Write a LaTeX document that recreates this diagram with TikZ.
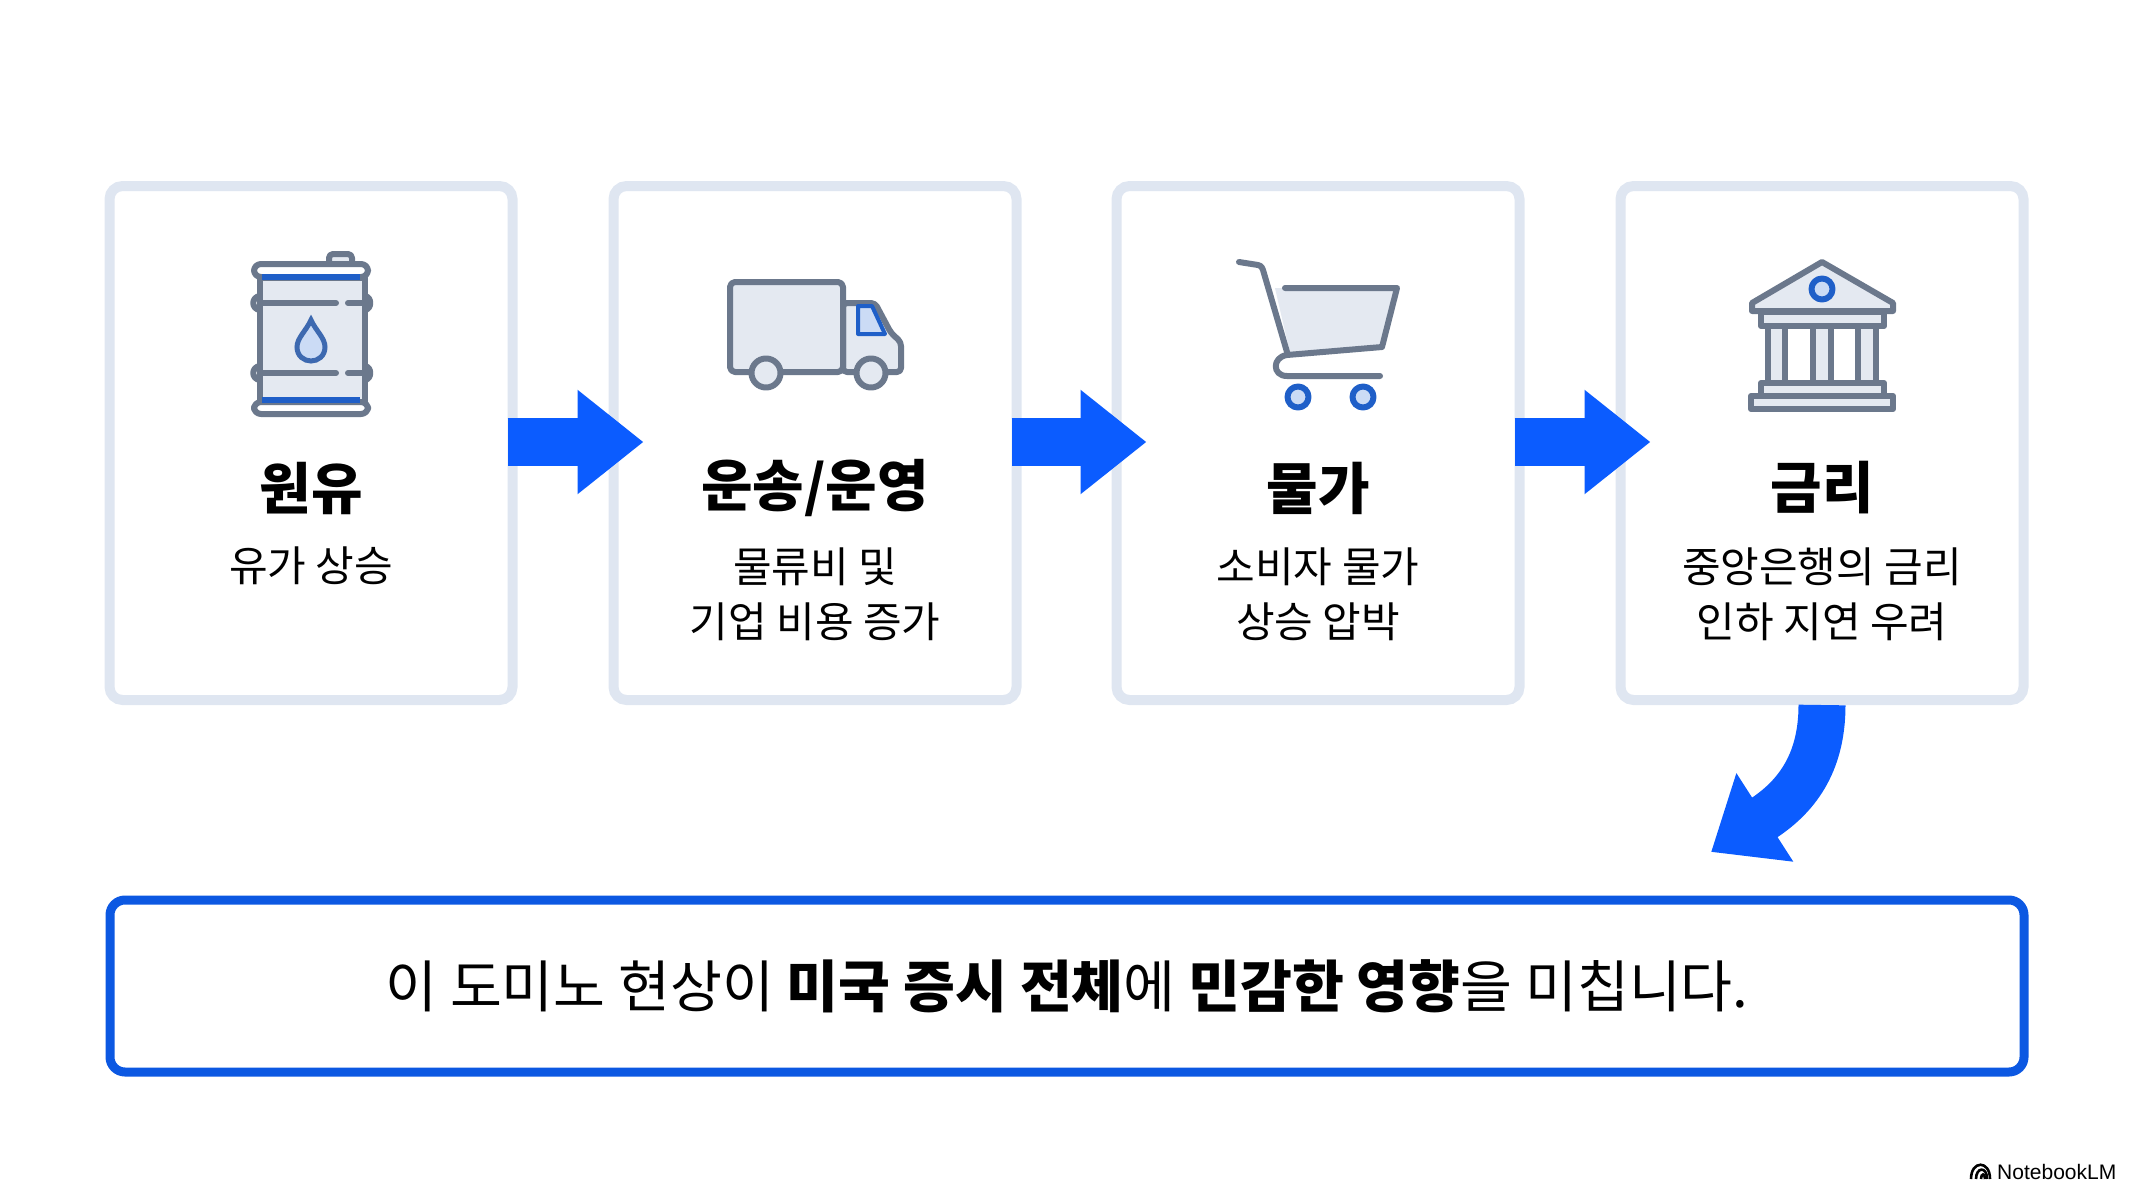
\documentclass[tikz,border=0pt]{standalone}
\usepackage{fontspec}
\setmainfont{Noto Sans CJK KR}
\newfontfamily\logofont{Liberation Sans}
\usetikzlibrary{arrows.meta}
\definecolor{linegray}{HTML}{6B788C}
\definecolor{iconfill}{HTML}{E4E9F1}
\definecolor{iconblue}{HTML}{1F5FC8}
\definecolor{paleblue}{HTML}{CBDBF5}
\definecolor{framegray}{HTML}{DFE6F1}
\definecolor{mainblue}{HTML}{0B5CFF}
\definecolor{framblue}{HTML}{0C58E2}
\tikzset{
box node/.style={draw=framegray,fill=white,line width=10pt,rounded corners=13pt,minimum width=403pt,minimum height=514pt,outer sep=0pt,inner sep=0pt},
banner node/.style={draw=framblue,fill=white,line width=9pt,rounded corners=15pt,minimum width=1914pt,minimum height=172pt,outer sep=0pt,font=\fontsize{56.4}{60}\selectfont},
title node/.style={font=\fontsize{56}{60}\selectfont\bfseries,inner sep=0pt},
sub node/.style={font=\fontsize{42}{55}\selectfont,align=center,inner sep=0pt},
freccia/.style={draw=mainblue,line width=48pt,-{Triangle[length=66pt,width=100pt]},shorten <=-5pt,shorten >=-30pt},
freccia curva/.style={draw=mainblue,line width=47pt,-{Triangle[length=64pt,width=101pt]},shorten <=5pt},
icon/.style={draw=linegray,line width=6pt,line join=round,line cap=round},
icon blue/.style={draw=iconblue,line width=6pt,line join=round,line cap=round}}

\begin{document}
\begin{tikzpicture}[x=1pt,y=-1pt]
\useasboundingbox (0,0) rectangle (2133,1200);

\node[box node] (box1) at (311,443) {};
\node[box node] (box2) at (815,443) {};
\node[box node] (box3) at (1318,443) {};
\node[box node] (box4) at (1822,443) {};
\node[banner node] (banner) at (1067,986) {\raisebox{-1pt}{이 도미노 현상이 \textbf{미국 증시 전체}에 \textbf{민감한 영향}을 미칩니다.}};

\node[title node] (title1) at (311,488) {원유};
\node[title node] (title2) at (815,488) {운송/운영};
\node[title node] (title3) at (1318,488) {물가};
\node[title node] (title4) at (1822,488) {금리};
\node[sub node] (sub1) at (311,566) {유가 상승};
\node[sub node] (sub2) at (815,594) {물류비 및\\기업 비용 증가};
\node[sub node] (sub3) at (1318,594) {소비자 물가\\상승 압박};
\node[sub node] (sub4) at (1822,594) {중앙은행의 금리\\인하 지연 우려};

\coordinate (curveend) at (1711,852);
\draw[freccia] ([yshift=1pt]box1.east) -- ([yshift=1pt]box2.west);
\draw[freccia] ([yshift=1pt]box2.east) -- ([yshift=1pt]box3.west);
\draw[freccia] ([yshift=1pt]box3.east) -- ([yshift=1pt]box4.west);
\draw[freccia curva] (box4.south) .. controls (1822,765) and (1795,798) .. (curveend);

% barrel
\draw[icon,fill=iconfill] (260,278) rectangle (365,402);
\draw[icon,fill=iconfill,rounded corners=4pt] (329,262) -- (329,254) -- (352,254) -- (352,262);
\draw[icon,fill=white,rounded corners=7pt] (254,264) rectangle (368,277);
\draw[icon,fill=white,rounded corners=7pt] (254,402) rectangle (368,414);
\draw[icon blue,line cap=butt] (262,277) -- (360,277);
\draw[icon blue,line cap=butt] (262,400) -- (360,400);
\draw[icon] (260,303) -- (336,303);
\draw[icon] (348,303) -- (363,303);
\draw[icon] (260,373) -- (336,373);
\draw[icon] (348,373) -- (363,373);
\draw[icon] (260,296) .. controls (251,297) and (251,309) .. (260,310);
\draw[icon] (365,296) .. controls (372,297) and (372,309) .. (365,310);
\draw[icon] (260,366) .. controls (251,367) and (251,379) .. (260,380);
\draw[icon] (365,366) .. controls (372,367) and (372,379) .. (365,380);
\draw[line width=5pt,draw=iconblue!60!linegray,fill=paleblue] (311,320) .. controls (306,331) and (297,338) .. (297,347) .. controls (297,356) and (304,361) .. (311,361) .. controls (318,361) and (325,356) .. (325,347) .. controls (325,338) and (316,331) .. (311,320) -- cycle;

% truck
\draw[icon,fill=iconfill,rounded corners=4pt] (843,303) -- (875,303) -- (891,333) -- (901,342) -- (901,372) -- (843,372) -- cycle;
\draw[icon,fill=iconfill,rounded corners=5pt] (730,282) rectangle (843,372);
\draw[icon blue,fill=paleblue,line width=4pt] (858,306) -- (872,306) -- (885,334) -- (858,334) -- cycle;
\draw[icon,fill=iconfill] (766,373) circle (14.5);
\draw[icon,fill=iconfill] (871,373) circle (14.5);

% cart
\fill[iconfill] (1275,288) -- (1397,288) -- (1382,347) -- (1290,353) -- cycle;
\draw[icon] (1239,262) -- (1258,265) .. controls (1262,266) and (1262,268) .. (1263,270) -- (1287,352);
\draw[icon] (1285,288) -- (1397,288) -- (1382,347) -- (1287,355) .. controls (1272,357) and (1272,376) .. (1287,376) -- (1380,376);
\draw[icon blue,fill=paleblue] (1298,397) circle (10.5);
\draw[icon blue,fill=paleblue] (1363,397) circle (10.5);

% bank
\draw[icon,fill=iconfill] (1822,262) -- (1893,303) -- (1893,311) -- (1752,311) -- (1752,303) -- cycle;
\draw[icon,fill=iconfill] (1761,312) rectangle (1884,326);
\draw[icon,fill=iconfill] (1768,326) rectangle (1785,383);
\draw[icon,fill=iconfill] (1813,326) rectangle (1831,383);
\draw[icon,fill=iconfill] (1858,326) rectangle (1876,383);
\draw[icon,fill=iconfill] (1761,383) rectangle (1884,396);
\draw[icon,fill=iconfill] (1751,396) rectangle (1893,409);
\draw[icon blue,fill=paleblue] (1822,289) circle (10.5);

% logo
\node[font=\logofont\fontsize{21}{22}\selectfont,anchor=west,inner sep=0pt] (logo) at (1997,1172) {NotebookLM};
\draw[line width=2.6pt,line cap=butt] (1971,1179) .. controls (1971,1160) and (1990,1160) .. (1990,1179);
\draw[line width=2.6pt,line cap=butt] (1976,1179) .. controls (1976,1167) and (1987,1166) .. (1987,1179);
\draw[line width=2.6pt,line cap=butt] (1981,1179) .. controls (1981,1173) and (1985,1173) .. (1985,1179);
\end{tikzpicture}
\end{document}
